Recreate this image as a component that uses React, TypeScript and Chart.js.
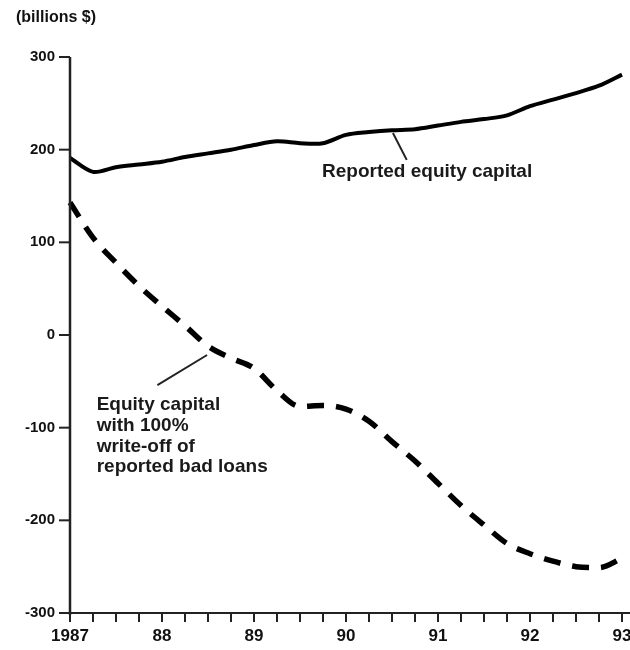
import React, { useEffect, useRef } from "react";
import { Chart, registerables } from "chart.js";

Chart.register(...registerables);

// Quarterly observations, 1987 Q1 .. 1993 Q1
const START_YEAR = 1987;
const reportedEquity = [191, 176, 181, 184, 187, 192, 196, 200, 205, 209, 207, 207, 216, 219, 221, 222, 226, 230, 233, 237, 247, 254, 261, 269, 281];
const writeOffEquity = [143, 105, 78, 53, 31, 10, -12, -25, -36, -60, -77, -76, -80, -93, -115, -136, -160, -184, -205, -225, -236, -244, -250, -251, -241];

const yearTicks = [1987, 1988, 1989, 1990, 1991, 1992, 1993];
const yearLabels = ["1987", "88", "89", "90", "91", "92", "93"];
const yTicks = [300, 200, 100, 0, -100, -200, -300];
const unitLabel = "(billions $)";
const seriesLabels = ["Reported equity capital", ["Equity capital", "with 100%", "write-off of", "reported bad loans"]];

const FONT = '"Liberation Sans", Arial, Helvetica, sans-serif';

const toPoints = (vals: number[]) => vals.map((v, i) => ({ x: START_YEAR + i / 4, y: v }));

const axesPlugin = {
  id: "customAxes",
  afterDraw(chart: any) {
    const ctx = chart.ctx;
    const xs = chart.scales.x;
    const ys = chart.scales.y;
    const ca = chart.chartArea;
    ctx.save();
    // y axis
    ctx.strokeStyle = "#222";
    ctx.lineWidth = 2.5;
    ctx.beginPath();
    ctx.moveTo(ca.left, ca.top);
    ctx.lineTo(ca.left, ca.bottom + 2);
    ctx.stroke();
    // x axis
    ctx.lineWidth = 2;
    ctx.beginPath();
    ctx.moveTo(ca.left - 2, ca.bottom);
    ctx.lineTo(chart.width, ca.bottom);
    ctx.stroke();
    // y ticks and labels
    ctx.fillStyle = "#111";
    ctx.font = `bold 15px ${FONT}`;
    ctx.textAlign = "right";
    ctx.textBaseline = "middle";
    yTicks.forEach((t) => {
      const py = ys.getPixelForValue(t);
      ctx.lineWidth = 2;
      ctx.beginPath();
      ctx.moveTo(ca.left - 11, py);
      ctx.lineTo(ca.left, py);
      ctx.stroke();
      ctx.fillText(String(t), ca.left - 15, py);
    });
    // x quarterly ticks
    for (let q = 0; q <= (yearTicks[yearTicks.length - 1] - yearTicks[0]) * 4; q++) {
      const px = xs.getPixelForValue(yearTicks[0] + q / 4);
      ctx.lineWidth = 2;
      ctx.beginPath();
      ctx.moveTo(px, ca.bottom);
      ctx.lineTo(px, ca.bottom + 9);
      ctx.stroke();
    }
    ctx.font = `bold 17px ${FONT}`;
    ctx.textAlign = "center";
    ctx.textBaseline = "middle";
    yearTicks.forEach((yr, i) => {
      const px = xs.getPixelForValue(yr);
      ctx.fillText(yearLabels[i], px, ca.bottom + 23);
    });
    // unit label
    ctx.textAlign = "left";
    ctx.font = `bold 16px ${FONT}`;
    ctx.fillText(unitLabel, 16, 18);

    // annotations
    const P = (x: number, y: number) => [xs.getPixelForValue(x), ys.getPixelForValue(y)];
    ctx.font = `bold 19px ${FONT}`;
    ctx.fillStyle = "#1a1a1a";
    const [ax, ay] = P(1989.74, 176);
    ctx.fillText(seriesLabels[0] as string, ax, ay);
    ctx.lineWidth = 2;
    ctx.strokeStyle = "#222";
    let [l1x, l1y] = P(1990.51, 218);
    let [l2x, l2y] = P(1990.66, 189);
    ctx.beginPath();
    ctx.moveTo(l1x, l1y);
    ctx.lineTo(l2x, l2y);
    ctx.stroke();

    const lines = seriesLabels[1] as string[];
    const lineVals = [-75.5, -98, -121, -142.5];
    const [bx] = P(1987.29, 0);
    lines.forEach((s, i) => {
      const [, by] = P(1987.29, lineVals[i]);
      ctx.fillText(s, bx, by);
    });
    [l1x, l1y] = P(1987.95, -54);
    [l2x, l2y] = P(1988.49, -21.6);
    ctx.beginPath();
    ctx.moveTo(l1x, l1y);
    ctx.lineTo(l2x, l2y);
    ctx.stroke();
    ctx.restore();
  },
};

export default function App() {
  const ref = useRef<HTMLCanvasElement | null>(null);
  useEffect(() => {
    if (!ref.current) return;
    const chart = new Chart(ref.current, {
      type: "line",
      data: {
        datasets: [
          {
            label: "Reported equity capital",
            data: toPoints(reportedEquity),
            borderColor: "#000",
            borderWidth: 4,
            pointRadius: 0,
            tension: 0.3,
            clip: false as any,
          },
          {
            label: "Equity capital with 100% write-off of reported bad loans",
            data: toPoints(writeOffEquity),
            borderColor: "#000",
            borderWidth: 5.5,
            borderDash: [17, 12],
            pointRadius: 0,
            cubicInterpolationMode: "monotone",
            clip: false as any,
          },
        ],
      },
      options: {
        responsive: false,
        animation: false,
        devicePixelRatio: 1,
        layout: { padding: { left: 70, right: 8, top: 57, bottom: 37 } },
        plugins: { legend: { display: false }, tooltip: { enabled: false } },
        scales: {
          x: { type: "linear", min: 1987, max: 1993, display: false },
          y: { type: "linear", min: -300, max: 300, display: false },
        },
      },
      plugins: [axesPlugin],
    });
    return () => chart.destroy();
  }, []);
  return (
    <div style={{ position: "fixed", left: 0, top: 0, width: 630, height: 650, background: "#fff" }}>
      <canvas ref={ref} width={630} height={650} />
    </div>
  );
}
